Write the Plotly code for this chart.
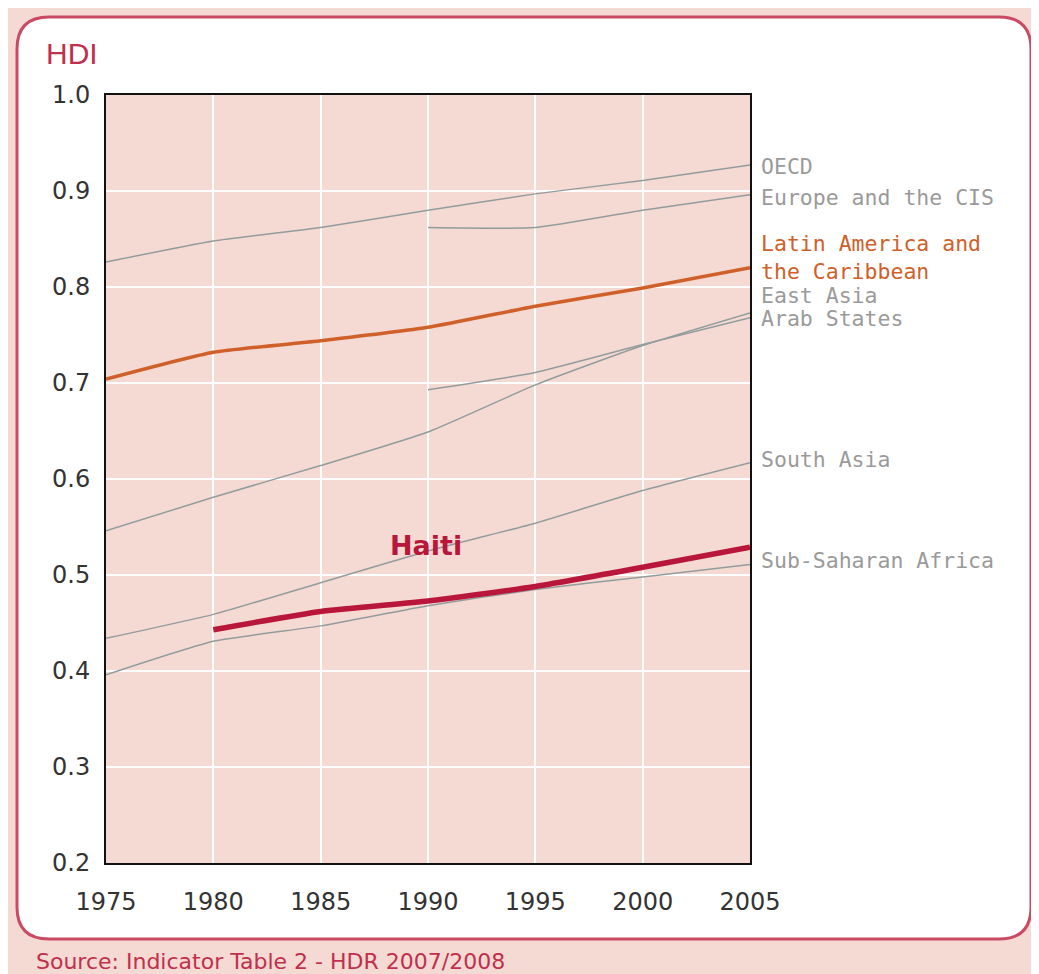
import plotly.graph_objects as go

years = [1975, 1980, 1985, 1990, 1995, 2000, 2005]
years_90 = [1990, 1995, 2000, 2005]
years_80 = [1980, 1985, 1990, 1995, 2000, 2005]

oecd = [0.826, 0.848, 0.862, 0.880, 0.897, 0.911, 0.927]
europe_cis = [0.862, 0.862, 0.880, 0.896]
latin_america = [0.704, 0.732, 0.744, 0.758, 0.780, 0.799, 0.820]
east_asia = [0.546, 0.581, 0.614, 0.649, 0.698, 0.739, 0.773]
arab_states = [0.693, 0.711, 0.740, 0.768]
south_asia = [0.434, 0.459, 0.492, 0.525, 0.554, 0.588, 0.617]
sub_saharan = [0.396, 0.431, 0.447, 0.468, 0.485, 0.498, 0.511]
haiti = [0.443, 0.462, 0.473, 0.488, 0.508, 0.529]

labels = ["OECD", "Europe and the CIS", "Latin America and<br>the Caribbean",
          "East Asia", "Arab States", "South Asia", "Sub-Saharan Africa"]
label_y = [0.926, 0.893, 0.831, 0.791, 0.767, 0.620, 0.515]
label_colors = ["#9a9a9a", "#9a9a9a", "#d0602a", "#9a9a9a", "#9a9a9a", "#9a9a9a", "#9a9a9a"]

y_ticks = [0.2, 0.3, 0.4, 0.5, 0.6, 0.7, 0.8, 0.9, 1.0]
y_ticktext = ["0.2", "0.3", "0.4", "0.5", "0.6", "0.7", "0.8", "0.9", "1.0"]

GRAY = "#939c9c"
ORANGE = "#d0602a"
RED = "#b8163a"
PINK = "#f5dad4"

fig = go.Figure()

def add(x, y, color, width):
    fig.add_trace(go.Scatter(x=x, y=y, mode="lines",
                             line=dict(color=color, width=width, shape="spline", smoothing=0.5),
                             showlegend=False, hoverinfo="skip"))

add(years, oecd, GRAY, 1.5)
add(years_90, europe_cis, GRAY, 1.5)
add(years, east_asia, GRAY, 1.5)
add(years_90, arab_states, GRAY, 1.5)
add(years, south_asia, GRAY, 1.5)
add(years, sub_saharan, GRAY, 1.5)
add(years, latin_america, ORANGE, 3.5)
add(years_80, haiti, RED, 5.5)

OFF = 8  # page body margin
W, H = 1031, 974
L, R, T, B = 106 - OFF, 750 - OFF, 95 - OFF, 863 - OFF
pw, ph = R - L, B - T

def px(x):  # reference screenshot x -> paper
    return (x - OFF - L) / pw

def py(y):  # reference screenshot y -> paper
    return (B - (y - OFF)) / ph

# rounded white box
x0, x1, y0, y1, r = 17, 1031, 17, 939, 32
rx, ry = r / pw, r / ph
X0, X1, Y0, Y1 = px(x0), px(x1), py(y0), py(y1)
path = (f"M {X0+rx},{Y0} L {X1-rx},{Y0} Q {X1},{Y0} {X1},{Y0-ry} "
        f"L {X1},{Y1+ry} Q {X1},{Y1} {X1-rx},{Y1} "
        f"L {X0+rx},{Y1} Q {X0},{Y1} {X0},{Y1+ry} "
        f"L {X0},{Y0-ry} Q {X0},{Y0} {X0+rx},{Y0} Z")

shapes = [
    dict(type="path", path=path, xref="paper", yref="paper",
         fillcolor="white", line=dict(color="#c94a62", width=3), layer="below"),
    dict(type="rect", xref="paper", yref="paper", x0=0, x1=1, y0=0, y1=1,
         fillcolor=PINK, line=dict(width=0), layer="below"),
]

annotations = []
for t, yv, c in zip(labels, label_y, label_colors):
    annotations.append(dict(x=2005, y=yv, xref="x", yref="y", text=t, showarrow=False,
                            xanchor="left", yanchor="middle", xshift=9, align="left",
                            font=dict(family="DejaVu Sans Mono", size=21.5, color=c)))

annotations.append(dict(x=1989.9, y=0.531, xref="x", yref="y", text="<b>Haiti</b>",
                        showarrow=False, font=dict(family="DejaVu Sans", size=27, color=RED)))
annotations.append(dict(x=px(44), y=py(54), xref="paper", yref="paper", text="HDI",
                        showarrow=False, xanchor="left", yanchor="middle",
                        font=dict(family="Liberation Sans", size=30, color="#c0304c")))
annotations.append(dict(x=px(34), y=py(961), xref="paper", yref="paper",
                        text="Source: Indicator Table 2 - HDR 2007/2008",
                        showarrow=False, xanchor="left", yanchor="middle",
                        font=dict(family="DejaVu Sans", size=22, color="#c0304c")))

fig.update_layout(
    width=W, height=H,
    margin=dict(l=L, r=W - R, t=T, b=H - B, pad=0),
    paper_bgcolor=PINK,
    plot_bgcolor="rgba(0,0,0,0)",
    shapes=shapes,
    annotations=annotations,
    showlegend=False,
    xaxis=dict(range=[1975, 2005], tickmode="array", tickvals=years,
               showgrid=True, gridcolor="white", gridwidth=2, zeroline=False,
               showline=True, linecolor="#111", linewidth=2, mirror=True,
               ticks="", ticklabelstandoff=16,
               tickfont=dict(family="DejaVu Sans", size=24, color="#333")),
    yaxis=dict(range=[0.2, 1.0], tickmode="array",
               tickvals=y_ticks, ticktext=y_ticktext,
               showgrid=True, gridcolor="white", gridwidth=2, zeroline=False,
               showline=True, linecolor="#111", linewidth=2, mirror=True,
               ticks="", ticklabelstandoff=9,
               tickfont=dict(family="DejaVu Sans", size=24, color="#333")),
)

fig.write_html("out.html")
